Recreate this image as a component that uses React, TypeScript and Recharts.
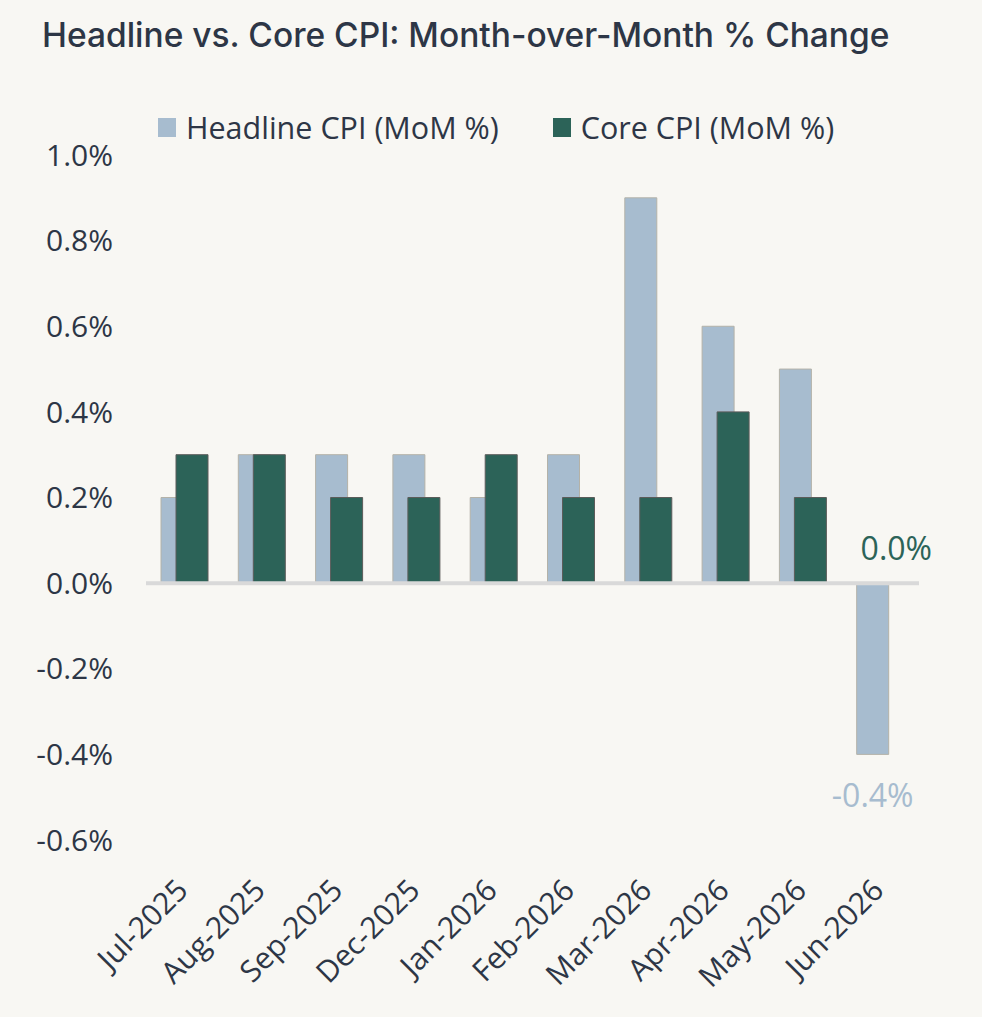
import { BarChart, Bar, XAxis, YAxis, Legend, ReferenceLine, ReferenceDot, LabelList } from "recharts";

const months = [
  "Jul-2025", "Aug-2025", "Sep-2025", "Dec-2025", "Jan-2026",
  "Feb-2026", "Mar-2026", "Apr-2026", "May-2026", "Jun-2026",
];
const headlineMoM = [0.2, 0.3, 0.3, 0.3, 0.2, 0.3, 0.9, 0.6, 0.5, -0.4];
const coreMoM = [0.3, 0.3, 0.2, 0.2, 0.3, 0.2, 0.2, 0.4, 0.2, 0.0];
const yTicks = [-0.6, -0.4, -0.2, 0, 0.2, 0.4, 0.6, 0.8, 1.0];

const HEADLINE = "#a7bccf";
const CORE = "#2c6358";
const INK = "#2d3646";
const BG = "#f8f7f3";
const FONT = "'Open Sans', sans-serif";

const data = months.map((month, i) => ({ month, headline: headlineMoM[i], core: coreMoM[i] }));
const last = months.length - 1;

const pct = (v: number) => `${v.toFixed(1)}%`;

// value label under the latest headline bar
function lastHeadline(props: any) {
  const { x, y, width, height, value, index } = props;
  if (index !== last) return null;
  const bottom = Math.max(y, y + height);
  return (
    <text x={x + width / 2} y={bottom + 53} textAnchor="middle" fill={HEADLINE} fontSize={32} fontFamily={FONT}>
      {pct(Number(value))}
    </text>
  );
}

function LegendRow() {
  const items = [
    { label: "Headline CPI (MoM %)", color: HEADLINE },
    { label: "Core CPI (MoM %)", color: CORE },
  ];
  return (
    <div style={{ display: "flex", alignItems: "center", fontFamily: FONT, fontSize: 30.5, color: INK }}>
      {items.map((it) => (
        <div key={it.label} style={{ display: "flex", alignItems: "center", marginRight: 54 }}>
          <span style={{ width: 18, height: 19, background: it.color, marginRight: 10, display: "inline-block" }} />
          <span>{it.label}</span>
        </div>
      ))}
    </div>
  );
}

export default function App() {
  return (
    <div style={{ position: "fixed", left: 0, top: 0, width: 982, height: 1017, background: BG }}>
      <div
        style={{
          position: "absolute",
          left: 42,
          top: 17,
          fontFamily: "Inter, sans-serif",
          fontWeight: 500,
          fontSize: 33.5,
          lineHeight: "36px",
          color: INK,
          whiteSpace: "nowrap",
        }}
      >
        Headline vs. Core CPI: Month-over-Month % Change
      </div>
      <BarChart
        width={982}
        height={1017}
        data={data}
        margin={{ top: 155, right: 63, bottom: 27, left: 0 }}
        barSize={32}
        barGap={-17}
      >
        <Legend
          layout="horizontal"
          verticalAlign="middle"
          align="center"
          content={() => <LegendRow />}
          wrapperStyle={{ top: 106, left: 158, width: 800, height: 42 }}
        />
        <XAxis
          dataKey="month"
          axisLine={false}
          tickLine={false}
          tickSize={0}
          tickMargin={37}
          interval={0}
          height={150}
          tick={{ fontSize: 30, fill: INK, fontFamily: FONT, angle: -45, textAnchor: "end", dx: -10 }}
        />
        <YAxis
          type="number"
          domain={[-0.6, 1.0]}
          ticks={yTicks}
          tickFormatter={pct}
          axisLine={false}
          tickLine={false}
          tickSize={0}
          tickMargin={33}
          width={146}
          tick={{ fontSize: 30, fill: INK, fontFamily: FONT }}
        />
        <ReferenceLine y={0} stroke="#d9d9d9" strokeWidth={4} />
        <Bar dataKey="headline" name="Headline CPI (MoM %)" fill={HEADLINE} stroke="#b4b2a8" strokeWidth={1} isAnimationActive={false}>
          <LabelList dataKey="headline" content={lastHeadline} />
        </Bar>
        <Bar dataKey="core" name="Core CPI (MoM %)" fill={CORE} stroke="#5c5c5a" strokeWidth={1} isAnimationActive={false} />
        {/* latest core reading sits on the zero line, so its label is anchored to the point */}
        <ReferenceDot
          x={months[last]}
          y={coreMoM[last]}
          r={0}
          stroke="none"
          label={{ value: pct(coreMoM[last]), position: "top", offset: 23, dx: 16, fill: CORE, fontSize: 32, fontFamily: FONT }}
        />
      </BarChart>
    </div>
  );
}
